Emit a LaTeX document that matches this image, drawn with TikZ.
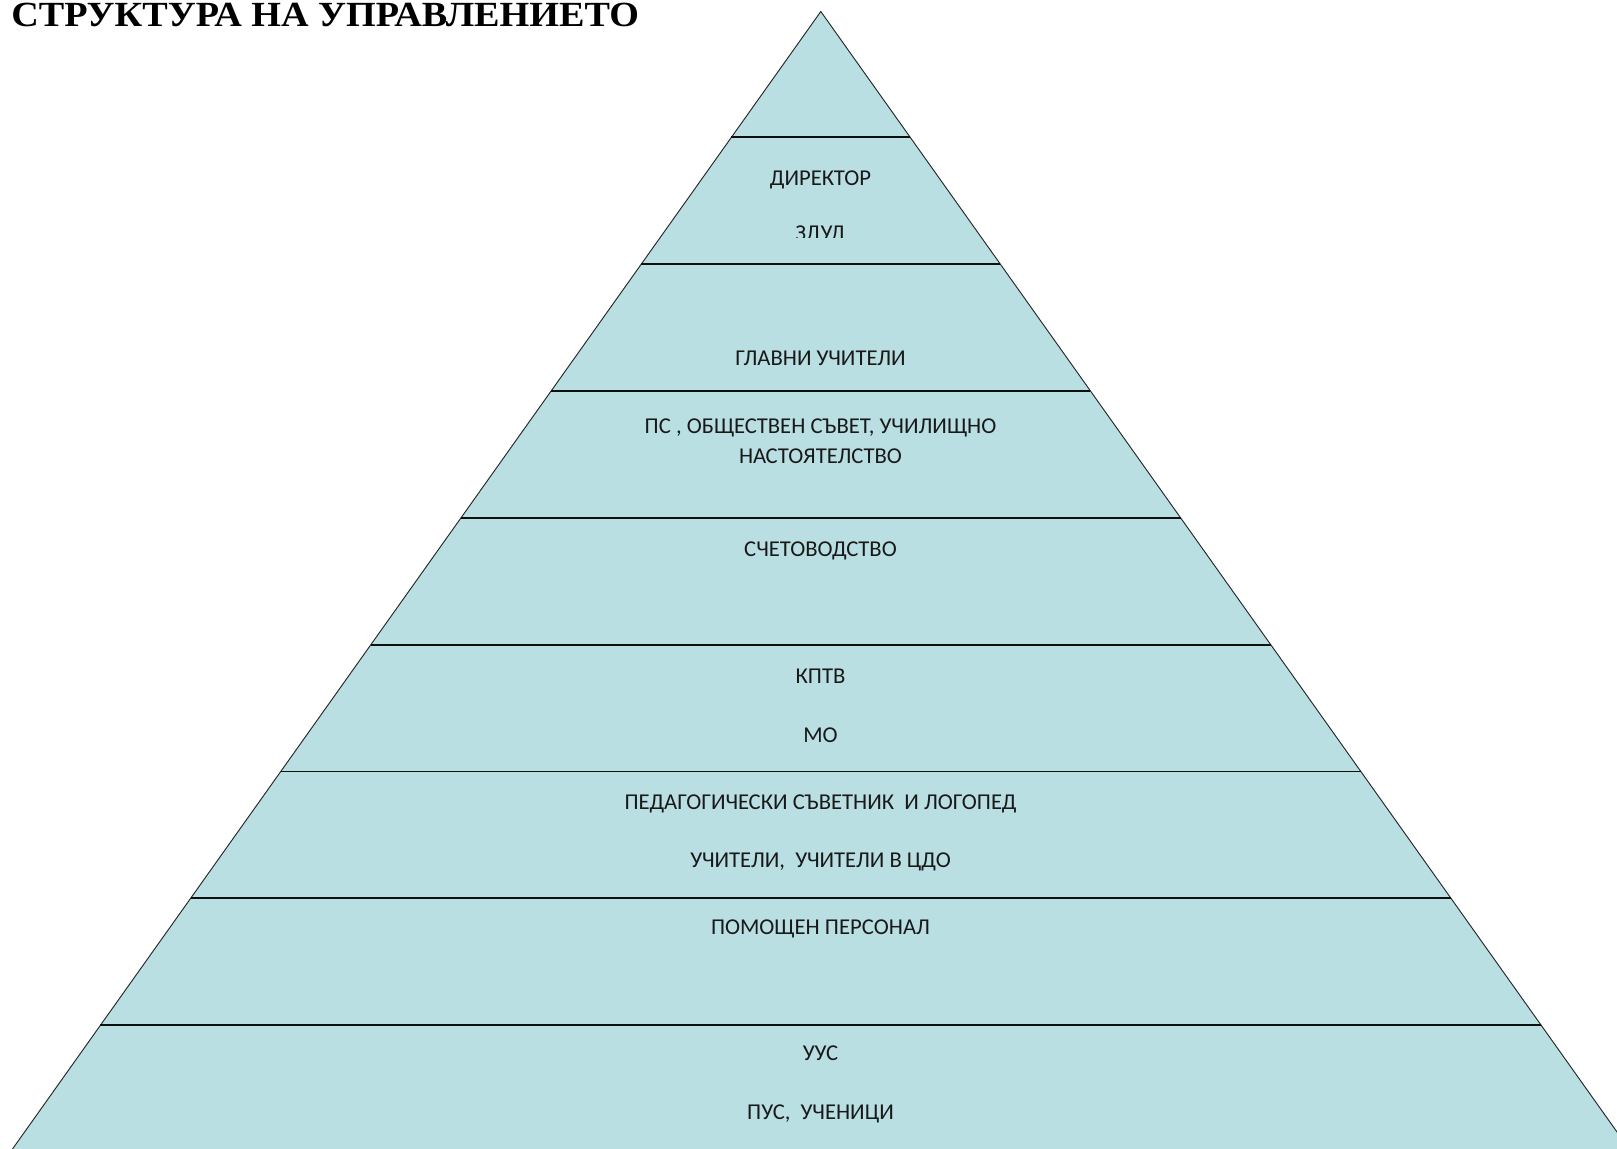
\documentclass[tikz,border=0pt]{standalone}
\usepackage{fontspec}
\setmainfont{Carlito}
\newfontfamily\titlefont{Liberation Serif}
\definecolor{pyrfill}{RGB}{185,223,227}
\definecolor{pyrline}{RGB}{15,15,15}
\begin{document}
\begin{tikzpicture}[x=0.75pt,y=-0.75pt,
  lvl/.style={anchor=base,font=\fontsize{17}{20}\selectfont,text=black!90,inner sep=0pt},
  sep/.style={line width=1.4pt,draw=pyrline},
  outline/.style={line width=0.7pt,draw=black!85,fill=pyrfill}]
\useasboundingbox (0,0) rectangle (1617,1149);
\clip (0,0) rectangle (1617,1149);
\fill[white] (0,0) rectangle (1617,1149);
\def\ax{820.8}\def\ay{11.5}\def\k{0.7106}
\coordinate (apex) at (\ax,\ay);
\coordinate (bl) at ({\ax-\k*(1170-\ay)},1170);
\coordinate (br) at ({\ax+\k*(1170-\ay)},1170);
\path[outline] (apex) -- (br) -- (bl) -- cycle;
\foreach \y in {137.2,264.05,390.9,517.75,644.6,771.45,898.3,1025.15}
  \draw[sep] ({\ax-\k*(\y-\ay)},\y) -- ({\ax+\k*(\y-\ay)},\y);
\node[anchor=base west,inner sep=0pt,xscale=1.08,font=\titlefont\bfseries\fontsize{26.5}{30}\selectfont] (title) at (11,26.5) {СТРУКТУРА НА УПРАВЛЕНИЕТО};
\node[lvl] (dir) at (820.5,185.3) {ДИРЕКТОР};
\begin{scope}
\clip (700,200) rectangle (940,237.3);
\node[lvl] (zdud) at (820.5,240.5) {ЗДУД};
\end{scope}
\node[lvl] (glav) at (820.5,365.6) {ГЛАВНИ УЧИТЕЛИ};
\node[lvl] (ps) at (820.5,433) {ПС , ОБЩЕСТВЕН СЪВЕТ, УЧИЛИЩНО};
\node[lvl] (nast) at (820.5,463.3) {НАСТОЯТЕЛСТВО};
\node[lvl] (smet) at (820.5,556.4) {СЧЕТОВОДСТВО};
\node[lvl] (kptv) at (820.5,683.2) {КПТВ};
\node[lvl] (mo) at (820.5,742) {МО};
\node[lvl] (ped) at (820.5,809.3) {ПЕДАГОГИЧЕСКИ СЪВЕТНИК\ \ И ЛОГОПЕД};
\node[lvl] (uch) at (820.5,867.3) {УЧИТЕЛИ,\ \ УЧИТЕЛИ В ЦДО};
\node[lvl] (pom) at (820.5,934.8) {ПОМОЩЕН ПЕРСОНАЛ};
\node[lvl] (uus) at (820.5,1060.7) {УУС};
\node[lvl] (pus) at (820.5,1119.4) {ПУС,\ \ УЧЕНИЦИ};
\end{tikzpicture}
\end{document}
